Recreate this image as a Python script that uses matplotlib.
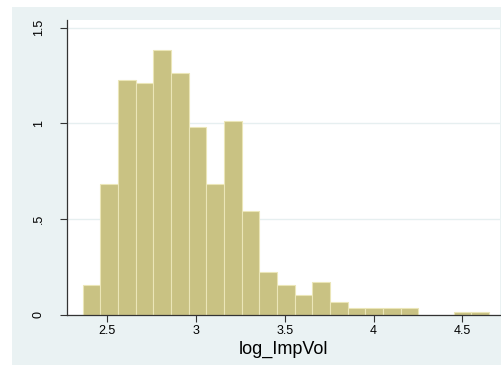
import numpy as np
import matplotlib.pyplot as plt

plt.rcParams['font.family'] = ['Liberation Sans', 'DejaVu Sans']

# histogram bins (log_ImpVol), density heights
bin_start = 2.361
bin_width = 0.0995
density = [0.157, 0.686, 1.227, 1.209, 1.383, 1.262, 0.981, 0.686, 1.014, 0.543,
           0.226, 0.157, 0.104, 0.174, 0.068, 0.035, 0.035, 0.035, 0.035, 0.0,
           0.0, 0.017, 0.017]
xticks = [2.5, 3, 3.5, 4, 4.5]
xtick_labels = ['2.5', '3', '3.5', '4', '4.5']
yticks = [0, 0.5, 1, 1.5]
ytick_labels = ['0', '.5', '1', '1.5']

W, H = 502, 365
fig = plt.figure(figsize=(W / 100, H / 100), dpi=100)
fig.patch.set_facecolor('white')
# stata-like outer panel
bg = fig.add_axes([12 / W, 0, 1 - 12 / W, 1 - 7 / H])
bg.set_facecolor('#eaf2f3')
bg.set_xticks([])
bg.set_yticks([])
for s in bg.spines.values():
    s.set_visible(False)

ax = fig.add_axes([67 / W, 1 - 315 / H, (500 - 67) / W, (315 - 20) / H])
ax.set_facecolor('white')

lefts = bin_start + bin_width * np.arange(len(density))
ax.bar(lefts, density, width=bin_width, align='edge', color='#c9c283',
       edgecolor='#ebe6b8', linewidth=0.8, zorder=2)

ax.set_xlim(2.273, 4.712)
ax.set_ylim(0, 1.54)
ax.set_xticks(xticks)
ax.set_xticklabels(xtick_labels, fontsize=9)
ax.set_yticks(yticks)
ax.set_yticklabels(ytick_labels, fontsize=9, rotation=90, va='center')
ax.tick_params(axis='y', length=5, width=0.8, pad=11, color='#333333')
ax.tick_params(axis='x', length=5, width=0.8, pad=2, color='#333333')
ax.grid(axis='y', color='#e6eff0', linewidth=1, zorder=0)
ax.set_axisbelow(True)
for s in ['top', 'right']:
    ax.spines[s].set_visible(False)
for s in ['left', 'bottom']:
    ax.spines[s].set_color('#333333')
    ax.spines[s].set_linewidth(0.9)
ax.set_xlabel('log_ImpVol', fontsize=13, labelpad=3)

fig.savefig('out.png', dpi=100)
